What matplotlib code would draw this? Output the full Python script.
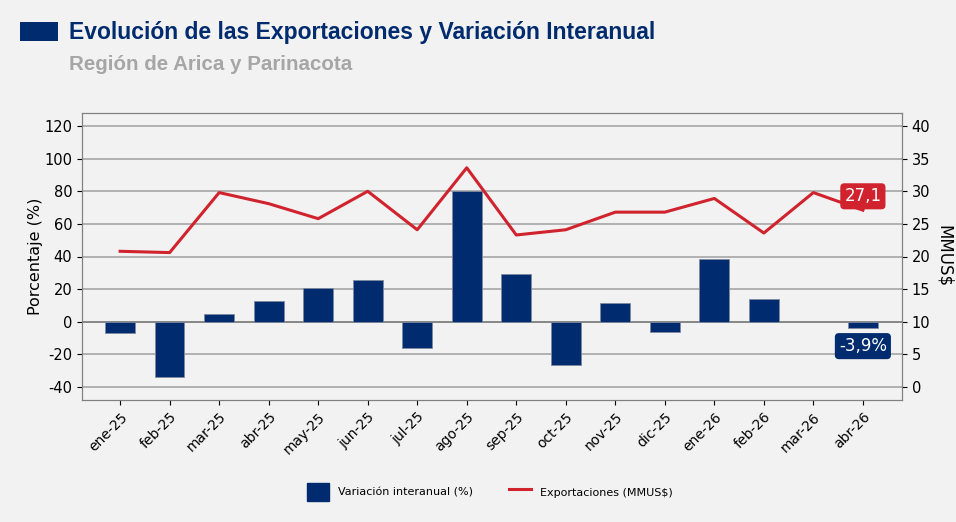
import matplotlib
matplotlib.use("Agg")
import matplotlib.pyplot as plt
import numpy as np
from matplotlib.patches import Rectangle
from matplotlib.lines import Line2D
from matplotlib.patches import Patch

plt.rcParams["axes.unicode_minus"] = False

months = ["ene-25", "feb-25", "mar-25", "abr-25", "may-25", "jun-25", "jul-25", "ago-25",
          "sep-25", "oct-25", "nov-25", "dic-25", "ene-26", "feb-26", "mar-26", "abr-26"]
variacion = [-6.9, -34.0, 4.9, 12.7, 20.8, 25.5, -16.3, 80.3,
             29.5, -26.7, 11.4, -6.5, 38.5, 13.9, np.nan, -3.9]
exportaciones = [20.8, 20.6, 29.8, 28.1, 25.8, 30.0, 24.1, 33.6,
                 23.3, 24.1, 26.8, 26.8, 28.9, 23.6, 29.8, 27.1]

NAVY = "#002b6e"
RED = "#d0232e"
BG = "#f2f2f2"

fig = plt.figure(figsize=(9.56, 5.22), dpi=100, facecolor=BG)
ax = fig.add_axes([82/956, 1-400/522, (902-82)/956, (400-113)/522])
ax.set_facecolor(BG)
x = np.arange(len(months))

ax.bar(x, variacion, width=0.6, color=NAVY, edgecolor="#7f8aa0", linewidth=0.6, zorder=2)
ax.set_ylim(-48, 128)
ax.set_yticks(np.arange(-40, 121, 20))
ax.yaxis.grid(True, color="#a6a6a6", linewidth=1.2, zorder=0)
ax.axhline(0, color="#808080", linewidth=1.2, zorder=1)
ax.set_axisbelow(True)
ax.set_xlim(-0.77, 15.79)
ax.set_xticks(x)
ax.set_xticklabels(months, rotation=45, ha="right", rotation_mode="anchor", fontsize=10)
ax.tick_params(axis="y", labelsize=10.5)
ax.set_ylabel("Porcentaje (%)", fontsize=11.5, labelpad=1)
for s in ax.spines.values():
    s.set_color("#808080")

ax2 = ax.twinx()
ax2.plot(x, exportaciones, color=RED, linewidth=2.2, zorder=3)
ax2.set_ylim(-2, 42)
ax2.set_yticks(np.arange(0, 41, 5))
ax2.tick_params(axis="y", labelsize=10.5)
ax2.set_ylabel("MMUS$", fontsize=12, rotation=270, labelpad=16)
for s in ax2.spines.values():
    s.set_color("#808080")

# annotations
ax2.annotate("27,1", (x[-1], exportaciones[-1]), xytext=(0, 10), textcoords="offset points",
             ha="center", va="center", color="white", fontsize=12,
             bbox=dict(boxstyle="round,pad=0.2", fc=RED, ec=RED))
ax.annotate("-3,9%", (x[-1], variacion[-1]), xytext=(0, -13), textcoords="offset points",
            ha="center", va="center", color="white", fontsize=12,
            bbox=dict(boxstyle="round,pad=0.2", fc=NAVY, ec=NAVY))

# legend
handles = [Patch(facecolor=NAVY, edgecolor=NAVY), Line2D([0], [0], color=RED, linewidth=2.2)]
fig.legend(handles, ["Variación interanual (%)", "Exportaciones (MMUS$)"],
           loc="center", bbox_to_anchor=(490/956, 1-492/522), ncol=2, frameon=False,
           fontsize=8, handlelength=2.0, handleheight=2.0, columnspacing=3.2, handletextpad=0.8)

# title
fig.patches.append(Rectangle((20/956, 1-41/522), 38/956, 19/522, transform=fig.transFigure,
                             facecolor=NAVY, edgecolor="none"))
fig.text(69/956, 1-32/522, "Evolución de las Exportaciones y Variación Interanual",
         fontsize=16.5, fontweight="bold", color=NAVY, va="center",
         family=["Liberation Sans", "DejaVu Sans"])
fig.text(69/956, 1-65/522, "Región de Arica y Parinacota",
         fontsize=14.8, fontweight="bold", color="#a6a6a6", va="center",
         family=["Liberation Sans", "DejaVu Sans"])

fig.savefig("out.png", dpi=100, facecolor=BG)
